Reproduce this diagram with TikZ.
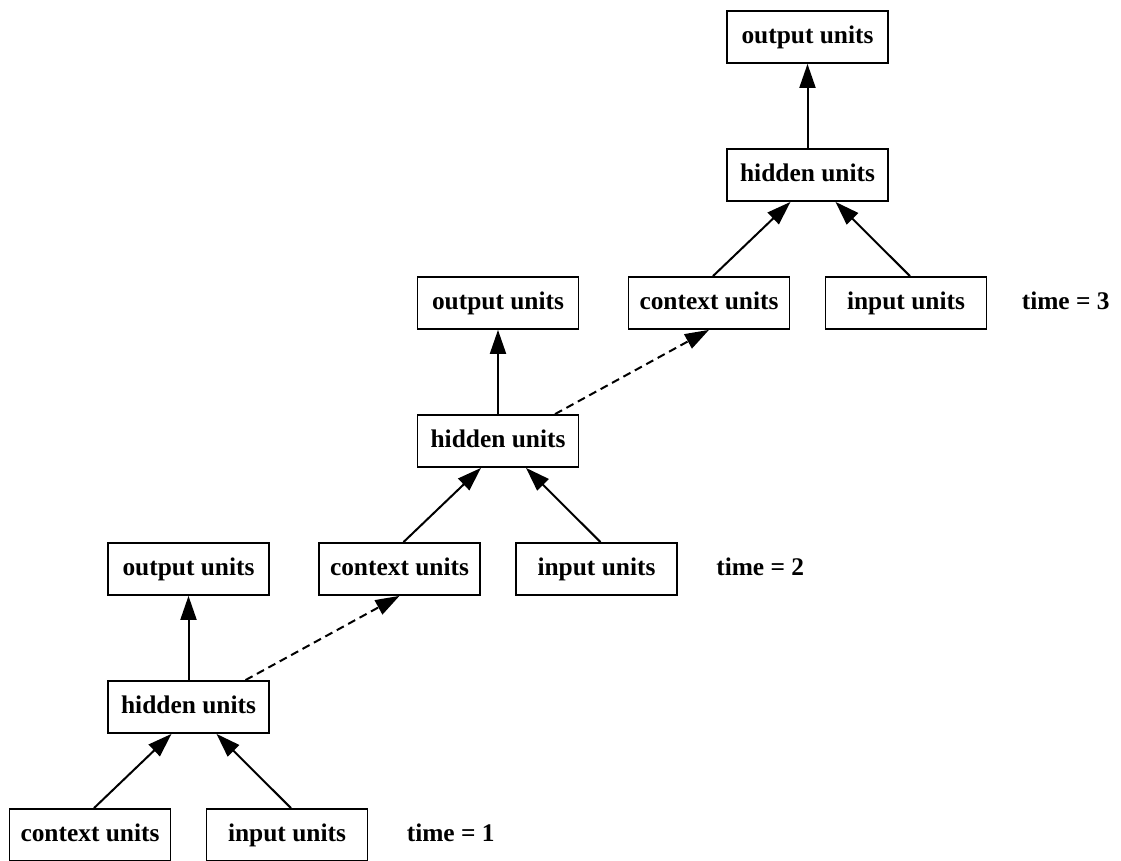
\documentclass[tikz,border=0pt]{standalone}
\usepackage{fontspec}
\setmainfont{Liberation Serif}
\usepackage{tikz}
\usetikzlibrary{positioning}
\usetikzlibrary{arrows.meta}
\def\UnitSep{98.5pt}
\def\HalfSep{49.25pt}
\def\RowIn{64pt}
\def\RowOut{69pt}
\def\StepSep{105.5pt}

\begin{document}
\begin{tikzpicture}[on grid,
		unit/.style={draw,line width=0.9pt,minimum width=80.5pt,minimum height=26pt,inner sep=0pt,text height=9pt,text depth=2.5pt,font=\fontsize{12.7}{15}\selectfont\bfseries},
		stamp/.style={inner sep=0pt,text height=9pt,text depth=2.5pt,font=\fontsize{12.7}{15}\selectfont\bfseries},
		link/.style={-{Triangle[length=12pt,width=8pt]},line width=1pt},
		recur/.style={link,dash pattern=on 4pt off 2.5pt}]
	\useasboundingbox (0pt,0pt) rectangle (560.5pt,430.5pt);
	% time = 1
	\node[unit] (ctx1) at (45pt,13pt) {context units};
	\node[unit,right=\UnitSep of ctx1] (inp1) {input units};
	\node[unit,above right=\RowIn and \HalfSep of ctx1] (hid1) {hidden units};
	\node[unit,above=\RowOut of hid1] (out1) {output units};
	\node[stamp,on grid=false,right=19pt of inp1] (time1) {time = 1};
	% time = 2
	\node[unit,right=\StepSep of out1] (ctx2) {context units};
	\node[unit,right=\UnitSep of ctx2] (inp2) {input units};
	\node[unit,above right=\RowIn and \HalfSep of ctx2] (hid2) {hidden units};
	\node[unit,above=\RowOut of hid2] (out2) {output units};
	\node[stamp,on grid=false,right=19pt of inp2] (time2) {time = 2};
	% time = 3
	\node[unit,right=\StepSep of out2] (ctx3) {context units};
	\node[unit,right=\UnitSep of ctx3] (inp3) {input units};
	\node[unit,above right=\RowIn and \HalfSep of ctx3] (hid3) {hidden units};
	\node[unit,above=\RowOut of hid3] (out3) {output units};
	\node[stamp,on grid=false,right=17pt of inp3] (time3) {time = 3};
	% 
	\foreach \t in {1,2,3}{
		\draw[link] ([xshift=2pt]ctx\t.north) -- ([xshift=-8.5pt]hid\t.south);
		\draw[link] ([xshift=2pt]inp\t.north) -- ([xshift=14pt]hid\t.south);
		\draw[link] (hid\t) -- (out\t);
	}
	% copy of the hidden state
	\draw[recur] ([xshift=28.5pt]hid1.north) -- (ctx2.south);
	\draw[recur] ([xshift=28.5pt]hid2.north) -- (ctx3.south);
\end{tikzpicture}
\end{document}
